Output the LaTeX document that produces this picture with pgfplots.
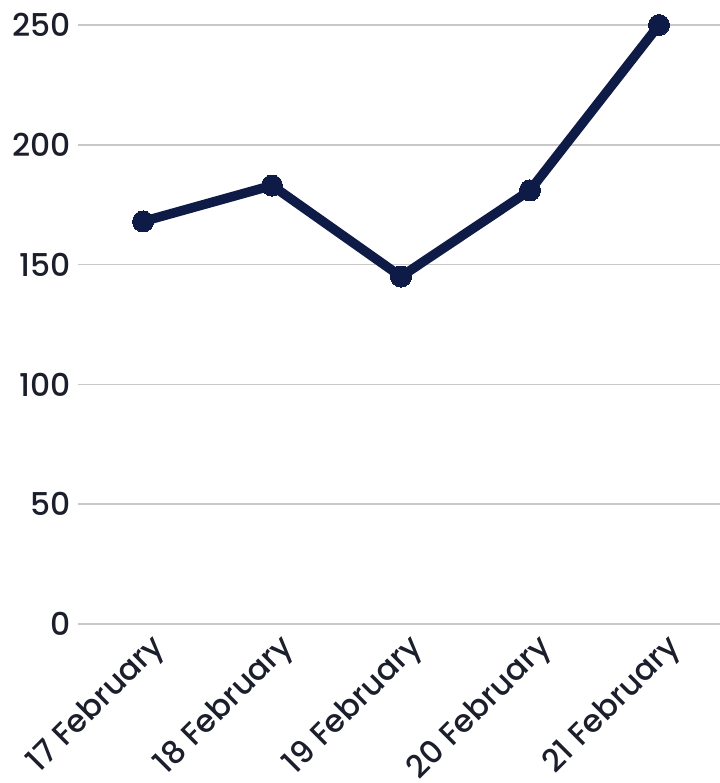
\documentclass[border=0pt]{standalone}
\usepackage{pgfplots}
\pgfplotsset{compat=1.18}
\usepackage{fontspec}
\setmainfont{Poppins}[UprightFont=* Medium]
\definecolor{linecol}{HTML}{0F1B47}
\definecolor{gridcol}{HTML}{C8C8C8}
\definecolor{txtcol}{HTML}{1B1F2B}

\begin{document}
\begin{tikzpicture}
\path[use as bounding box] (-78bp,-159bp) rectangle (642bp,624bp);
\begin{axis}[
at={(0,0)}, anchor=south west,
width=642bp, height=599bp,
scale only axis,
xmin=-0.504, xmax=4.473,
ymin=0, ymax=250,
axis line style={draw=none},
ytick={0,50,100,150,200,250},
xtick={0,1,2,3,4},
xticklabels={17 February,18 February,19 February,20 February,21 February},
major tick length=0pt,
ymajorgrids,
grid style={gridcol, line width=1.5bp},
tick label style={font=\fontsize{31.5}{36}\selectfont, text=txtcol},
/pgf/number format/assume math mode=true,
x tick label style={rotate=45, anchor=east, xshift=2bp, yshift=-25bp},
yticklabel style={xshift=-4bp},
clip=false,
]
\addplot[color=linecol, line width=9.5bp, mark=*, mark size=10.5bp, mark options={fill=linecol, draw=linecol, line width=0pt}] coordinates {
(0,168) (1,183) (2,145) (3,181) (4,250)
};
\end{axis}
\end{tikzpicture}
\end{document}
